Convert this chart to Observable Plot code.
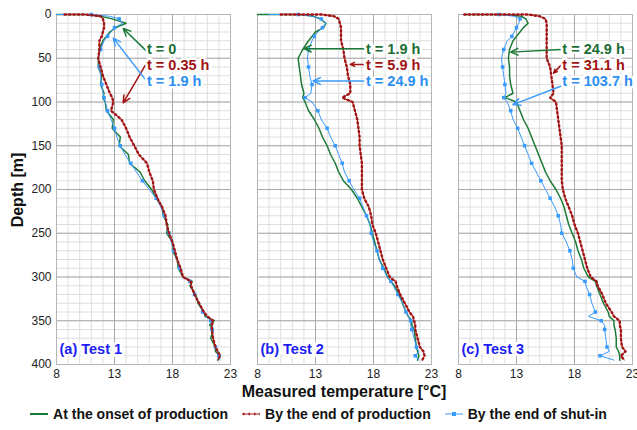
<!DOCTYPE html>
<html><head><meta charset="utf-8">
<script src="https://cdn.jsdelivr.net/npm/d3@7"></script>
<script src="https://cdn.jsdelivr.net/npm/@observablehq/plot@0.6"></script>
<style>
body{margin:0;background:#fff;font-family:"Liberation Sans",Arial,sans-serif;color:#111;}
#wrap{position:relative;width:637px;height:430px;overflow:hidden;}
#chart{position:absolute;left:0;top:0;}
#ylab{position:absolute;left:18px;top:190px;transform:translate(-50%,-50%) rotate(-90deg);font-weight:bold;font-size:16px;white-space:nowrap;}
#xlab{position:absolute;left:344px;top:392px;transform:translate(-50%,-50%);font-weight:bold;font-size:16px;white-space:nowrap;}
#legend{position:absolute;left:0;width:637px;top:406px;display:flex;justify-content:center;align-items:center;font-weight:bold;font-size:14px;white-space:nowrap;}
#legend .item{display:flex;align-items:center;margin:0 7px;}
#legend svg{margin-right:5px;}
</style>
</head><body>
<div id="wrap">
<div id="chart"></div>
<div id="ylab">Depth [m]</div>
<div id="xlab">Measured temperature [°C]</div>
<div id="legend">
 <span class="item"><svg width="18" height="10"><line x1="0" y1="5" x2="18" y2="5" stroke="#1b7a37" stroke-width="2"/></svg>At the onset of production</span>
 <span class="item"><svg width="18" height="10"><line x1="0" y1="5" x2="18" y2="5" stroke="#a31515" stroke-width="1"/><line x1="1" y1="5" x2="18" y2="5" stroke="#a31515" stroke-width="2.5" stroke-dasharray="1.5,4"/></svg>By the end of production</span>
 <span class="item"><svg width="18" height="10"><line x1="0" y1="5" x2="18" y2="5" stroke="#3a9bff" stroke-width="1"/><rect x="7" y="3" width="4" height="4" fill="#3a9bff"/></svg>By the end of shut-in</span>
</div>
</div>
<script>
// depth grid (m), shared by all profiles
const depth = [0,0,2,5,10,15,20,25,30,40,50,60,70,80,90,95,100,110,120,130,140,150,160,170,180,190,200,210,220,230,240,250,260,270,280,290,300,305,310,320,330,340,345,350,355,360,370,380,385,390,395];

// Test 1
const test1Onset = [8.0,10.5,11.8,12.8,14.0,13.1,12.6,12.3,12.0,11.7,11.6,11.6,11.9,11.8,12.1,12.0,12.2,12.3,12.9,12.8,13.5,13.4,14.2,14.3,15.2,15.6,16.2,16.6,17.1,17.2,17.6,17.5,18.0,18.0,18.4,18.5,18.9,19.7,19.5,20.0,20.2,20.7,20.8,21.6,21.2,21.5,21.3,21.7,21.7,22.1,21.9];
const test1Production = [8.7,10.5,11.8,12.0,12.1,12.1,12.0,11.9,11.7,11.7,11.6,11.8,12.0,12.3,12.6,12.8,12.9,12.7,13.6,14.0,14.3,14.7,15.1,15.8,16.0,16.3,16.4,16.7,17.1,17.4,17.5,17.7,18.0,18.2,18.4,18.7,18.9,19.6,19.6,19.9,20.3,20.7,21.0,21.5,21.4,21.4,21.5,21.7,21.9,22.1,21.9];
const test1Shutin = [8.0,11.0,12.6,13.4,13.7,13.0,12.7,12.4,12.1,11.8,11.6,11.7,11.8,11.9,12.0,12.1,12.2,12.4,12.7,13.0,13.2,13.5,13.9,14.4,14.9,15.4,16.0,16.6,17.0,17.3,17.5,17.7,17.9,18.1,18.4,18.6,18.9,19.5,19.6,19.9,20.3,20.6,20.9,21.3,21.4,21.4,21.5,21.7,21.9,22.0,22.1];

// Test 2
const test2Onset = [8.0,11.7,12.8,13.4,13.9,13.7,13.0,12.7,12.4,11.9,11.5,11.6,11.7,11.8,12.0,11.9,12.1,12.4,12.9,13.3,13.6,14.0,14.3,14.7,15.0,15.4,16.1,16.6,17.0,17.4,17.7,17.9,18.1,18.3,18.5,18.9,19.2,19.5,19.8,20.2,20.5,20.8,21.0,21.3,21.3,21.5,21.6,21.7,21.8,21.9,21.8];
const test2Production = [10.0,13.5,14.6,15.0,15.1,15.2,15.2,15.2,15.2,15.4,15.5,15.7,15.8,16.0,16.0,15.3,16.2,16.4,16.6,16.7,16.8,16.8,16.9,17.0,17.0,17.0,17.0,17.2,17.6,17.8,17.9,18.2,18.4,18.6,18.8,19.1,19.4,19.9,20.0,20.3,20.7,21.1,21.4,21.5,21.6,21.6,21.8,22.0,22.3,22.4,22.2];
const test2Shutin = [9.0,11.5,12.8,13.5,13.9,13.6,13.2,12.9,12.7,12.4,12.3,12.4,12.5,12.7,12.6,12.1,12.7,13.2,13.5,14.0,14.3,14.7,15.0,15.3,15.5,15.9,16.3,16.8,17.1,17.4,17.7,17.8,18.0,18.3,18.5,18.8,19.2,19.5,19.7,20.1,20.5,20.8,21.0,21.2,21.2,21.3,21.5,21.7,21.9,21.6,21.9];

// Test 3
const test3Onset = [8.5,12.0,13.4,13.8,14.0,13.6,13.3,13.0,12.7,12.4,12.3,12.4,12.4,12.5,12.7,12.0,13.0,13.3,13.6,14.0,14.3,14.6,14.9,15.2,15.5,15.9,16.4,16.8,17.1,17.3,17.5,17.8,18.1,18.3,18.6,18.8,19.2,19.8,19.9,20.2,20.5,20.9,21.0,21.4,21.4,21.5,21.6,21.6,21.8,21.9,21.9];
const test3Production = [8.5,14.0,15.0,15.5,15.6,15.6,15.6,15.6,15.6,15.6,15.6,15.9,16.0,16.1,16.2,15.9,16.4,16.5,16.6,16.7,16.8,16.9,16.9,16.9,16.9,16.9,17.0,17.2,17.5,17.8,18.0,18.3,18.5,18.7,18.9,19.1,19.4,19.9,20.0,20.4,20.7,21.2,21.4,21.9,21.9,22.0,22.0,22.1,22.4,22.0,22.3];
const test3Shutin = [8.5,11.5,12.8,13.3,13.2,13.0,12.8,12.6,12.2,11.9,11.7,11.8,11.9,12.0,12.1,11.9,12.2,12.5,12.7,13.1,13.4,13.7,14.0,14.3,14.7,15.1,15.5,15.9,16.3,16.6,16.8,16.9,17.3,17.6,17.8,17.9,18.2,18.9,19.0,19.3,19.5,19.8,19.2,20.3,20.6,20.6,20.7,20.8,21.0,20.2,21.4];

const panels = ["(a) Test 1", "(b) Test 2", "(c) Test 3"];
const xTicks = [8, 13, 18, 23];

// annotations: labels, label anchor [temp, depth], arrow tail & head [temp, depth]
const labelsTest1 = ["t = 0", "t = 0.35 h", "t = 1.9 h"];
const labelsTest2 = ["t = 1.9 h", "t = 5.9 h", "t = 24.9 h"];
const labelsTest3 = ["t = 24.9 h", "t = 31.1 h", "t = 103.7 h"];
const labelTemp = [15.8, 17.35, 16.95];
const labelDepth = [40, 58, 76];
const arrowFrom1 = [[15.7,41],[15.7,57],[15.7,75]];
const arrowTo1 = [[13.75,16],[13.75,101],[12.9,27]];
const arrowFrom2 = [[17.2,39],[17.2,57],[17.2,76]];
const arrowTo2 = [[12.0,39],[16.0,57],[12.8,76]];
const arrowFrom3 = [[16.8,40],[16.9,57],[16.8,82]];
const arrowTo3 = [[12.5,43],[16.2,67],[12.7,103]];

const GREEN = "#1b7a37", RED = "#a31515", BLUE = "#3a9bff";
const TEXTCOL = ["#1b6e35", "#9e1212", "#2b8ef0"];
const LINECOL = [GREEN, RED, BLUE];

const seriesDefs = [
  [panels[0], "onset", test1Onset], [panels[0], "production", test1Production], [panels[0], "shutin", test1Shutin],
  [panels[1], "onset", test2Onset], [panels[1], "production", test2Production], [panels[1], "shutin", test2Shutin],
  [panels[2], "onset", test3Onset], [panels[2], "production", test3Production], [panels[2], "shutin", test3Shutin]
];
const rows = [];
for (const [panel, series, temps] of seriesDefs) {
  temps.forEach((t, i) => rows.push({panel, series, i, depth: depth[i], temp: t}));
}
const labelSets = [labelsTest1, labelsTest2, labelsTest3];
const fromSets = [arrowFrom1, arrowFrom2, arrowFrom3];
const toSets = [arrowTo1, arrowTo2, arrowTo3];
const annots = [], arrows = [];
panels.forEach((p, pi) => {
  labelSets[pi].forEach((txt, k) => {
    annots.push({panel: p, k, text: txt, x: labelTemp[pi], y: labelDepth[k]});
    arrows.push({panel: p, k, x1: fromSets[pi][k][0], y1: fromSets[pi][k][1], x2: toSets[pi][k][0], y2: toSets[pi][k][1]});
  });
});
const panelLabels = panels.map(p => ({panel: p, text: p}));

const ser = s => rows.filter(d => d.series === s);

const marks = [
  Plot.gridX(d3.range(8, 24, 1), {stroke: "#dedede", strokeOpacity: 1}),
  Plot.gridY(d3.range(0, 401, 10), {stroke: "#dedede", strokeOpacity: 1}),
  Plot.gridX(xTicks, {stroke: "#a9a9a9", strokeOpacity: 1}),
  Plot.gridY(d3.range(0, 401, 50), {stroke: "#a9a9a9", strokeOpacity: 1}),
  Plot.frame({stroke: "#b5b5b5"}),
  Plot.line(ser("onset"), {x: "temp", y: "depth", fx: "panel", stroke: GREEN, strokeWidth: 1.5}),
  Plot.line(ser("shutin"), {x: "temp", y: "depth", fx: "panel", stroke: BLUE, strokeWidth: 1}),
  Plot.dot(ser("shutin").filter(d => d.i % 2 === 1), {x: "temp", y: "depth", fx: "panel", symbol: "square", r: 2, fill: BLUE}),
  Plot.line(ser("production"), {x: "temp", y: "depth", fx: "panel", stroke: RED, strokeWidth: 0.9}),
  Plot.line(ser("production"), {x: "temp", y: "depth", fx: "panel", stroke: RED, strokeWidth: 2.4, strokeDasharray: "1.4,3"}),
];
[0, 1, 2].forEach(k => {
  marks.push(Plot.arrow(arrows.filter(d => d.k === k), {x1: "x1", y1: "y1", x2: "x2", y2: "y2", fx: "panel", stroke: LINECOL[k], strokeWidth: 1.5, headLength: 8, headAngle: 50}));
});
[0, 1, 2].forEach(k => {
  marks.push(Plot.text(annots.filter(d => d.k === k), {x: "x", y: "y", text: "text", fx: "panel", fill: TEXTCOL[k], stroke: "white", strokeWidth: 5, paintOrder: "stroke", textAnchor: "start", fontWeight: "bold", fontSize: 14.5}));
});
marks.push(Plot.text(panelLabels, {fx: "panel", text: "text", frameAnchor: "bottom-left", dx: 3, dy: -11, textAnchor: "start", fill: "#1c1cf5", stroke: "white", strokeWidth: 6, paintOrder: "stroke", fontWeight: "bold", fontSize: 14.5}));
marks.push(Plot.axisX(xTicks, {tickSize: 0, tickPadding: 5, label: null, fontSize: 12}));
marks.push(Plot.axisY(d3.range(0, 401, 50), {tickSize: 0, tickPadding: 5, label: null, fontSize: 12}));

const chart = Plot.plot({
  width: 637, height: 380,
  marginLeft: 55, marginRight: 4, marginTop: 14, marginBottom: 16,
  style: {fontFamily: "'Liberation Sans', Arial, sans-serif", fontSize: "12px", color: "#222", overflow: "visible", background: "transparent"},
  fx: {domain: panels, paddingInner: 0.132, paddingOuter: 0, axis: null, label: null},
  x: {domain: [8, 23], label: null},
  y: {domain: [0, 400], reverse: true, label: null},
  marks
});
document.getElementById("chart").appendChild(chart);
</script>
</body></html>
